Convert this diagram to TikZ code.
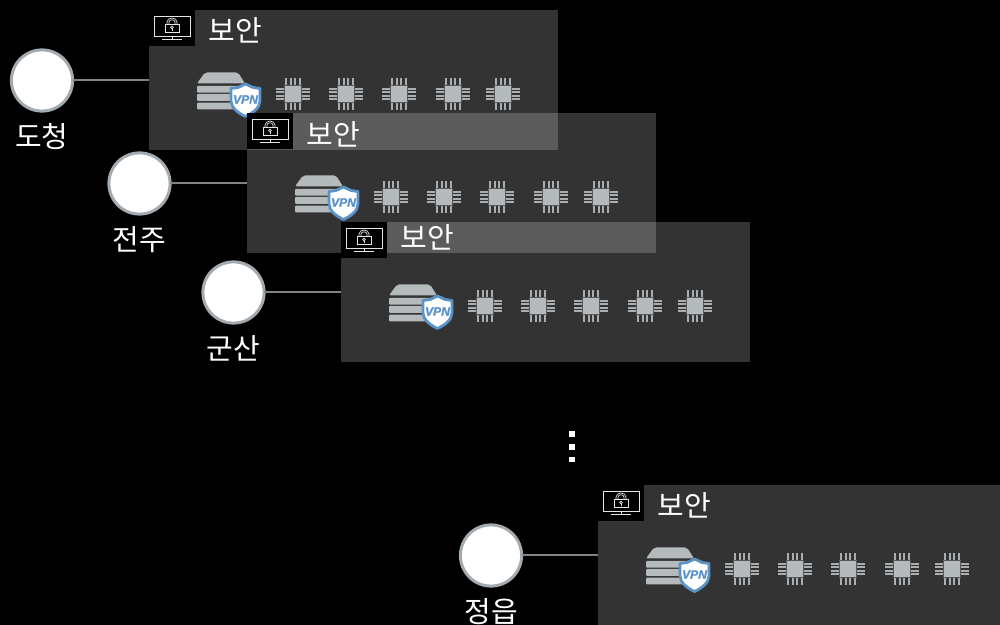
\documentclass[tikz,border=0pt]{standalone}
\usepackage{fontspec}
\setmainfont{Noto Sans CJK KR}
\newfontfamily\vpnfont{Liberation Sans}[BoldItalicFeatures={FakeBold=1.6}]
\usetikzlibrary{positioning}
\definecolor{wiregray}{HTML}{7F8487}
\definecolor{ringgray}{HTML}{A3ABB0}
\definecolor{metalgray}{HTML}{B5BABD}
\definecolor{chipgray}{HTML}{A8AEB2}
\definecolor{iconwhite}{HTML}{E6E6E6}
\definecolor{vpnblue}{HTML}{5B93C9}
\tikzset{
  panelbox/.style={fill=white,fill opacity=0.2,anchor=north west,inner sep=0pt,outer sep=0pt,minimum width=102.25mm,minimum height=35mm},
  sitecircle/.style={circle,draw=ringgray,line width=0.75mm,fill=white,inner sep=0pt,outer sep=0pt,minimum size=15.3mm},
  sitelabel/.style={text=white,font=\fontsize{20.6pt}{22pt}\selectfont,inner sep=0pt},
  dotbox/.style={fill=white,inner sep=0pt,outer sep=0pt,minimum size=1.4mm},
  pics/chip/.style={code={
    \foreach \d in {-7,-2.3,2.3,7} {
      \draw[chipgray,line width=0.5mm] (\d,-16) -- (\d,16);
    }
    \foreach \d in {-5.2,-1.8,1.8,5.2} {
      \draw[chipgray,line width=0.45mm] (-17,\d) -- (17,\d);
    }
    \fill[black!65] (-9,-9) rectangle (9,9);
    \fill[metalgray] (-8.3,-8.3) rectangle (8.3,8.3);
  }},
  pics/vpnserver/.style={code={
    \fill[metalgray,rounded corners=0.5mm] (0,11.5) -- (8,0.5) -- (41,0.5) -- (48,11.5) -- cycle;
    \fill[metalgray,rounded corners=0.25mm] (0,14) rectangle (44,20.7);
    \fill[metalgray,rounded corners=0.25mm] (0,22) rectangle (44,29);
    \fill[metalgray,rounded corners=0.25mm] (0,30.7) rectangle (44,37.3);
    \draw[vpnblue,fill=white,line width=0.7mm,line join=round] (48.5,12) -- (56,15.5) -- (63,16.5) -- (63,29) .. controls (63,36) and (55,41.5) .. (48.5,44.5) .. controls (42,41.5) and (34,36) .. (34,29) -- (34,16.5) -- (41,15.5) -- cycle;
    \node[text=vpnblue,font=\vpnfont\bfseries\itshape\fontsize{8.6pt}{9pt}\selectfont,inner sep=0pt] (-vpn) at (48.5,27.5) {VPN};
  }},
  pics/lockscreen/.style={code={
    \fill[black] (0,0) rectangle (46,36);
    \draw[iconwhite,line width=0.2mm] (5,6) rectangle (41,26);
    \draw[iconwhite,line width=0.2mm] (23,26) -- (23,29.5);
    \draw[iconwhite,line width=0.25mm] (13,29.5) -- (33,29.5);
    \draw[iconwhite,line width=0.17mm] (16,14) rectangle (30,22.5);
    \draw[iconwhite,line width=0.17mm] (18,14) -- (18,12) arc[start angle=180,end angle=0,x radius=5,y radius=-4] -- (28,14);
    \draw[iconwhite,line width=0.17mm] (20,14) -- (20,12) arc[start angle=180,end angle=0,x radius=3,y radius=-2.2] -- (26,14);
    \draw[iconwhite,line width=0.17mm] (23,17.5) circle[radius=1.3];
    \draw[iconwhite,line width=0.2mm] (23,18.8) -- (23,20.8);
  }}
}
\begin{document}
\begin{tikzpicture}[x=0.25mm,y=-0.25mm]
    \fill[black] (0,0) rectangle (1000,625);
    \clip (0,0) rectangle (1000,625);
    % panels with their sites
    \foreach \n/\px/\py/\sx/\sy/\name/\ty in {dc/149/10/42/80.5/도청/20,jj/247/113/139.5/183.5/전주/21,gs/341/222/233.5/292.5/군산/15,ju/598/485/491/555.5/정읍/20} {
      \node[panelbox] (panel\n) at (\px,\py) {};
      \node[sitecircle] (site\n) at (\sx,\sy) {};
      \node[sitelabel,below=3mm of site\n] (name\n) {\name};
      \draw[wiregray,line width=0.5mm] (site\n) -- (site\n -| panel\n.west);
      \begin{scope}[shift={(\px,\py)}]
        \pic (lock\n) at (0,0) {lockscreen};
        \node[sitelabel] (title\n) at (86.5,\ty) {보안};
        \pic (server\n) at (48,62) {vpnserver};
        \foreach \c in {144,197,250,304,354} {\pic at (\c,84) {chip};}
      \end{scope}
    }
    % vertical dots
    \node[dotbox] (dota) at (572,434) {};
    \node[dotbox] (dotb) at (572,447) {};
    \node[dotbox] (dotc) at (572,459.5) {};
\end{tikzpicture}
\end{document}
